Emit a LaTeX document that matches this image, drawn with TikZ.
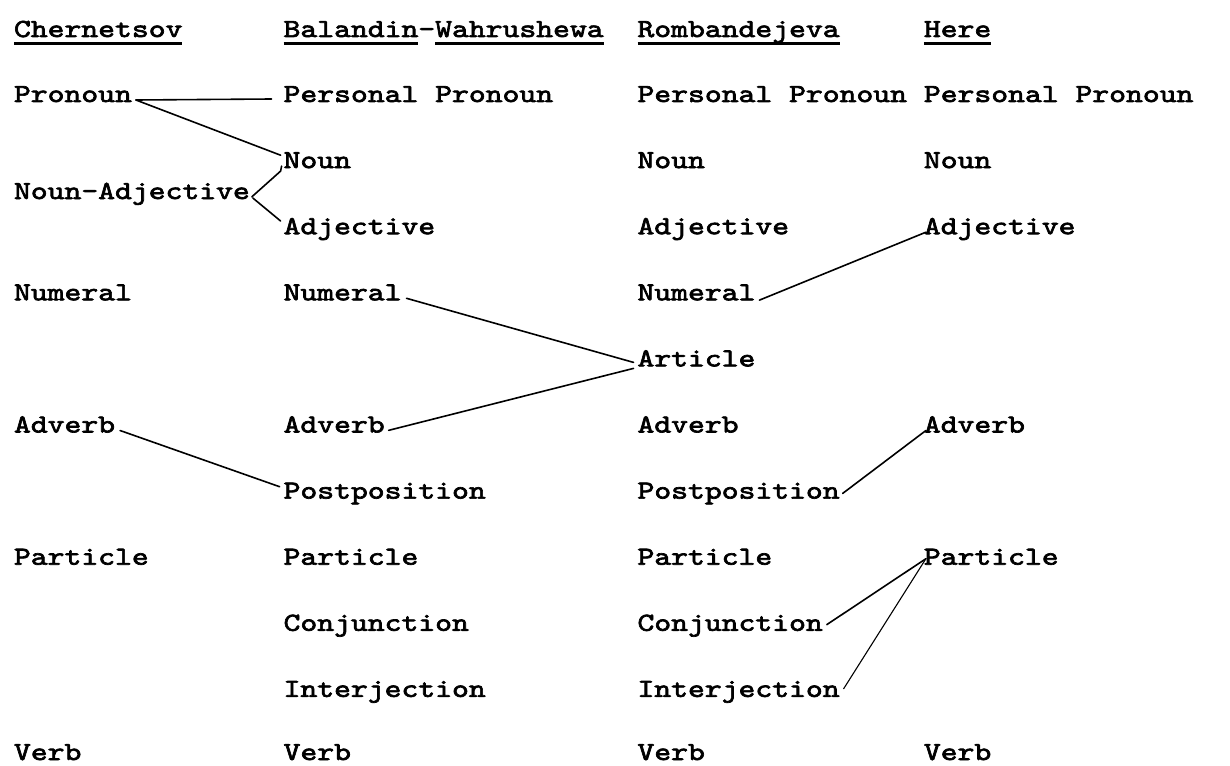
\documentclass[tikz,border=0pt]{standalone}
\usepackage{fontspec}
\newfontfamily\tw[FakeStretch=1.234,FakeBold=2.6]{lmmono10-regular.otf}
\usetikzlibrary{calc}
\begin{document}
\begin{tikzpicture}[x=1pt,y=-1pt,
  word/.style={anchor=base west,inner sep=0pt,outer sep=0pt,font=\tw\fontsize{26pt}{30pt}\selectfont},
  link/.style={line width=1.6pt,line cap=round,line join=round},
  thinlink/.style={line width=1.1pt,line cap=round},
  uline/.style={line width=3pt}]
\useasboundingbox (0,0) rectangle (1230,765);
% column 1
\node[word] (h1) at (14,37) {Chernetsov};
\node[word] (cpron) at (14,102) {Pronoun};
\node[word] (cnadj) at (14,199) {Noun-Adjective};
\node[word] (cnum) at (14,300.3) {Numeral};
\node[word] (cadv) at (14,432.5) {Adverb};
\node[word] (cpart) at (14,564.7) {Particle};
\node[word] (cverb) at (14,760) {Verb};
% column 2
\node[word] (h2) at (283.6,37) {Balandin-Wahrushewa};
\node[word] (bpp) at (283.6,102) {Personal Pronoun};
\node[word] (bnoun) at (283.6,168.1) {Noun};
\node[word] (badj) at (283.6,234.2) {Adjective};
\node[word] (bnum) at (283.6,300.3) {Numeral};
\node[word] (badv) at (283.6,432.5) {Adverb};
\node[word] (bpost) at (283.6,498.6) {Postposition};
\node[word] (bpart) at (283.6,564.7) {Particle};
\node[word] (bconj) at (283.6,630.8) {Conjunction};
\node[word] (binter) at (283.6,696.9) {Interjection};
\node[word] (bverb) at (283.6,760) {Verb};
% column 3
\node[word] (h3) at (637.5,37) {Rombandejeva};
\node[word] (rpp) at (637.5,102) {Personal Pronoun};
\node[word] (rnoun) at (637.5,168.1) {Noun};
\node[word] (radj) at (637.5,234.2) {Adjective};
\node[word] (rnum) at (637.5,300.3) {Numeral};
\node[word] (rart) at (637.5,366.4) {Article};
\node[word] (radv) at (637.5,432.5) {Adverb};
\node[word] (rpost) at (637.5,498.6) {Postposition};
\node[word] (rpart) at (637.5,564.7) {Particle};
\node[word] (rconj) at (637.5,630.8) {Conjunction};
\node[word] (rinter) at (637.5,696.9) {Interjection};
\node[word] (rverb) at (637.5,760) {Verb};
% column 4
\node[word] (h4) at (923.9,37) {Here};
\node[word] (hpp) at (923.9,102) {Personal Pronoun};
\node[word] (hnoun) at (923.9,168.1) {Noun};
\node[word] (hadj) at (923.9,234.2) {Adjective};
\node[word] (hadv) at (923.9,432.5) {Adverb};
\node[word] (hpart) at (923.9,564.7) {Particle};
\node[word] (hverb) at (923.9,760) {Verb};
% underlines
\coordinate (u1) at ($(h2.base west)!8/19!(h2.base east)$);
\coordinate (u2) at ($(h2.base west)!9/19!(h2.base east)$);
\draw[uline] ($(h1.base west)+(0,7)$) -- ($(h1.base east)+(0,7)$);
\draw[uline] ($(h2.base west)+(0,7)$) -- ($(u1)+(0,7)$);
\draw[uline] ($(u2)+(0,7)$) -- ($(h2.base east)+(0,7)$);
\draw[uline] ($(h3.base west)+(0,7)$) -- ($(h3.base east)+(0,7)$);
\draw[uline] ($(h4.base west)+(0,7)$) -- ($(h4.base east)+(0,7)$);
% connectors
\draw[link] ($(cpron.base east)+(4,-2)$) -- ($(bpp.base west)+(-12,-3)$);
\draw[link] ($(cpron.base east)+(4,-2)$) -- ($(bnoun.north west)+(-3,3)$);
\draw[link] ($(cnadj.mid east)+(2,0)$) -- ($(bnoun.base west)+(-3,3)$) -- ++(1,-5);
\draw[link] ($(cnadj.base east)+(3,-1)$) -- ($(badj.north west)+(-3,3)$);
\draw[link] ($(bnum.base east)+(5,-2)$) -- ($(rart.base west)+(-4,-4)$);
\draw[link] ($(badv.mid east)+(4,0)$) -- ($(rart.base west)+(-4,2)$);
\draw[link] ($(cadv.base east)+(5,-2)$) -- ($(bpost.north west)+(-4,4)$);
\draw[link] ($(rnum.mid east)+(4,2)$) -- ($(hadj.base west)+(2,-2)$);
\draw[link] ($(rpost.mid east)+(3,-3)$) -- ($(hadv.base west)+(2,-2)$);
\draw[link] ($(rconj.mid east)+(4,-4)$) -- ($(hpart.base west)+(2,-6)$);
\draw[thinlink] ($(rinter.mid east)+(4,-6)$) -- ($(hpart.base west)+(2,-6)$);
\end{tikzpicture}
\end{document}
